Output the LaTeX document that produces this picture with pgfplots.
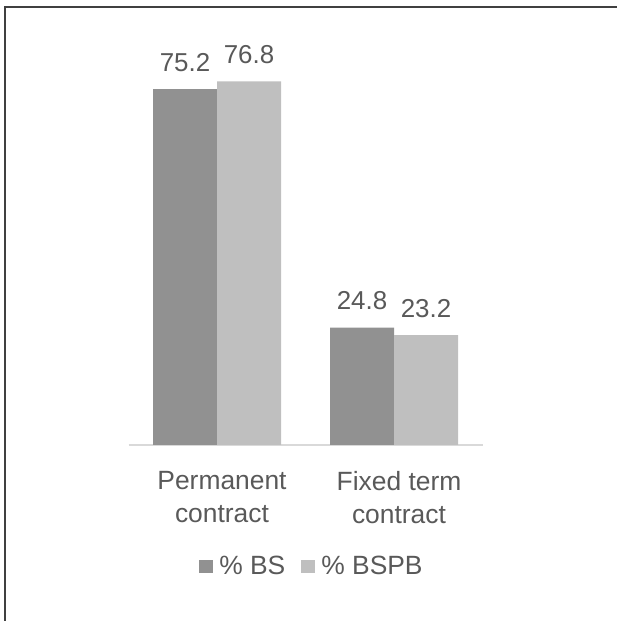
\documentclass[border=0pt]{standalone}
\usepackage{pgfplots}
\pgfplotsset{compat=1.18}
\usepackage{fontspec}
\setmainfont{Liberation Sans}
\definecolor{txt}{HTML}{595959}
\definecolor{barA}{HTML}{919191}
\definecolor{barB}{HTML}{BFBFBF}
\definecolor{axl}{HTML}{D9D9D9}
\definecolor{frm}{HTML}{404040}
\begin{document}
\begin{tikzpicture}
\useasboundingbox (0,0) rectangle (617bp,621bp);
\draw[line width=1.5bp, frm] (5bp,-2bp) -- (5bp,614bp) -- (620bp,614bp);
\begin{axis}[
  at={(128.5bp,176bp)}, anchor=south west,
  scale only axis, width=354bp, height=426bp,
  ymin=0, ymax=90, xmin=-0.5, xmax=1.5,
  ybar=0pt, bar width=64bp,
  axis y line=none,
  axis x line*=bottom,
  x axis line style={draw=axl, line width=1.2bp, -},
  xtick=data, xticklabels={{Permanent\\contract},{Fixed term\\contract}},
  major tick length=0pt,
  xticklabel style={anchor=north, inner sep=0pt, yshift=-26bp, xshift=5bp, align=center, text=txt, font=\fontsize{26.5}{33}\selectfont},
  /pgf/number format/assume math mode=true,
  nodes near coords={\pgfmathprintnumber[fixed,precision=1,fixed zerofill]{\pgfplotspointmeta}},
  every node near coord/.append style={anchor=base, inner sep=0pt, yshift=18bp, text=txt, font=\fontsize{26}{30}\selectfont},
  legend image code/.code={\fill[#1,draw=none] (0bp,-6.5bp) rectangle (14bp,6.5bp);},
  legend style={at={(0.5155,-0.285)}, anchor=center, draw=none, fill=none, legend columns=2,
    font=\fontsize{26.5}{30}\selectfont, text=txt, nodes={inner sep=0pt},
    /tikz/every odd column/.append style={column sep=6bp},
    /tikz/every even column/.append style={column sep=16bp}},
  legend cell align=left,
]
\addplot[fill=barA, draw=none] coordinates {(0,75.2) (1,24.8)};
\addplot[fill=barB, draw=none] coordinates {(0,76.8) (1,23.2)};
\legend{\% BS, \% BSPB}
\end{axis}
\end{tikzpicture}
\end{document}
